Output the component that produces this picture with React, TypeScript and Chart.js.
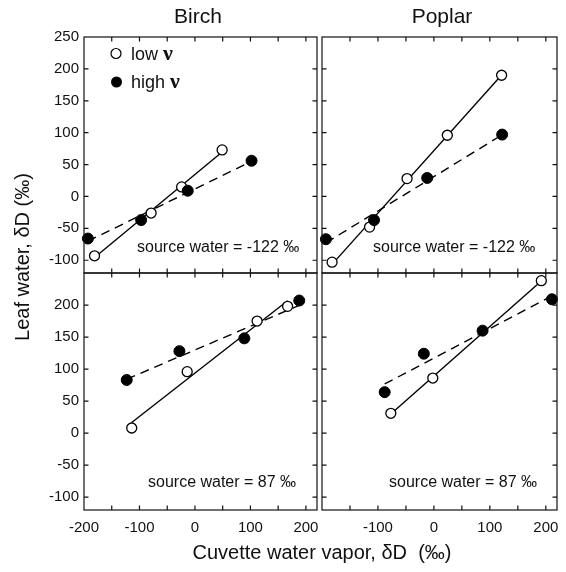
import React, { useEffect, useRef } from "react";
import { Chart, registerables } from "chart.js";

Chart.register(...registerables);

const W = 566;
const H = 572;
const SANS = "'Liberation Sans', Arial, Helvetica, sans-serif";
const SERIF = "'Liberation Serif', 'DejaVu Serif', serif";

// ---- axis settings / tick values ----
const X_MIN = -200;
const X_MAX = 220;
const Y_MIN = -120;
const Y_MAX = 250;
const X_TICKS = [-200, -150, -100, -50, 0, 50, 100, 150, 200];
const X_LABELS_LEFT = [-200, -100, 0, 100, 200];
const X_LABELS_RIGHT = [-100, 0, 100, 200];
const Y_TICKS = [-100, -50, 0, 50, 100, 150, 200, 250];
const Y_LABELS_TOP = [-100, -50, 0, 50, 100, 150, 200, 250];
const Y_LABELS_BOTTOM = [-100, -50, 0, 50, 100, 150, 200];

// ---- data (δD ‰) ----
const birchTopLowX = [-181, -79, -24, 49];
const birchTopLowY = [-93, -26, 15, 73];
const birchTopHighX = [-193, -97, -13, 102];
const birchTopHighY = [-66, -37, 9, 56];

const poplarTopLowX = [-182, -115, -48, 24, 121];
const poplarTopLowY = [-103, -48, 28, 96, 190];
const poplarTopHighX = [-193, -107, -12, 122];
const poplarTopHighY = [-67, -37, 29, 97];

const birchBotLowX = [-114, -14, 112, 167];
const birchBotLowY = [8, 96, 175, 198];
const birchBotHighX = [-123, -28, 89, 188];
const birchBotHighY = [83, 128, 148, 207];

const poplarBotLowX = [-77, -2, 192];
const poplarBotLowY = [31, 86, 238];
const poplarBotHighX = [-88, -18, 87, 211];
const poplarBotHighY = [64, 124, 160, 209];

const TITLES = ["Birch", "Poplar"];
const SOURCE_TOP = "source water = -122 ‰";
const SOURCE_BOTTOM = "source water = 87 ‰";
const LEGEND_LOW = "low";
const LEGEND_HIGH = "high";
const NU = "ν";
const Y_TITLE = "Leaf water, δD (‰)";
const X_TITLE = "Cuvette water vapor, δD  (‰)";

type Panel = {
  left: number;
  top: number;
  right: number;
  bottom: number;
  lowX: number[];
  lowY: number[];
  highX: number[];
  highY: number[];
  yLabels: number[] | null;
  xLabels: number[] | null;
  source: string;
  sourceX: number;
  sourceY: number;
};

const PANELS: Panel[] = [
  {
    left: 84, top: 37, right: 317, bottom: 273,
    lowX: birchTopLowX, lowY: birchTopLowY, highX: birchTopHighX, highY: birchTopHighY,
    yLabels: Y_LABELS_TOP, xLabels: null,
    source: SOURCE_TOP, sourceX: 137, sourceY: 248,
  },
  {
    left: 322, top: 37, right: 557, bottom: 273,
    lowX: poplarTopLowX, lowY: poplarTopLowY, highX: poplarTopHighX, highY: poplarTopHighY,
    yLabels: null, xLabels: null,
    source: SOURCE_TOP, sourceX: 373, sourceY: 248,
  },
  {
    left: 84, top: 273, right: 317, bottom: 510,
    lowX: birchBotLowX, lowY: birchBotLowY, highX: birchBotHighX, highY: birchBotHighY,
    yLabels: Y_LABELS_BOTTOM, xLabels: X_LABELS_LEFT,
    source: SOURCE_BOTTOM, sourceX: 148, sourceY: 483,
  },
  {
    left: 322, top: 273, right: 557, bottom: 510,
    lowX: poplarBotLowX, lowY: poplarBotLowY, highX: poplarBotHighX, highY: poplarBotHighY,
    yLabels: null, xLabels: X_LABELS_RIGHT,
    source: SOURCE_BOTTOM, sourceX: 389, sourceY: 483,
  },
];

function toPoints(xs: number[], ys: number[]) {
  return xs.map((x, i) => ({ x, y: ys[i] }));
}

function fitLine(xs: number[], ys: number[]) {
  const n = xs.length;
  const mx = xs.reduce((a, b) => a + b, 0) / n;
  const my = ys.reduce((a, b) => a + b, 0) / n;
  let sxy = 0;
  let sxx = 0;
  for (let i = 0; i < n; i++) {
    sxy += (xs[i] - mx) * (ys[i] - my);
    sxx += (xs[i] - mx) * (xs[i] - mx);
  }
  const b = sxy / sxx;
  const a = my - b * mx;
  const x0 = Math.min(...xs);
  const x1 = Math.max(...xs);
  return [
    { x: x0, y: a + b * x0 },
    { x: x1, y: a + b * x1 },
  ];
}

function makeConfig(p: Panel, drawGlobal: boolean): any {
  const YW = p.yLabels ? 50 : 0;
  const XH = p.xLabels ? 30 : 0;
  const tickFont = { family: SANS, size: 15 };

  const framePlugin = {
    id: "frame" + p.left + "_" + p.top,
    afterDraw(chart: any) {
      const ctx = chart.ctx as CanvasRenderingContext2D;
      const ca = chart.chartArea;
      const xs = chart.scales.x;
      const ys = chart.scales.y;
      ctx.save();
      ctx.strokeStyle = "#111";
      ctx.lineWidth = 1.2;
      ctx.strokeRect(ca.left, ca.top, ca.right - ca.left, ca.bottom - ca.top);
      const TL = 4.5;
      ctx.beginPath();
      for (const v of X_TICKS) {
        const px = xs.getPixelForValue(v);
        if (px <= ca.left + 1 || px >= ca.right - 1) continue;
        ctx.moveTo(px, ca.bottom);
        ctx.lineTo(px, ca.bottom - TL);
        ctx.moveTo(px, ca.top);
        ctx.lineTo(px, ca.top + TL);
      }
      for (const v of Y_TICKS) {
        const py = ys.getPixelForValue(v);
        if (py <= ca.top + 1 || py >= ca.bottom - 1) continue;
        ctx.moveTo(ca.left, py);
        ctx.lineTo(ca.left + TL, py);
        ctx.moveTo(ca.right, py);
        ctx.lineTo(ca.right - TL, py);
      }
      ctx.stroke();

      // source water annotation
      ctx.fillStyle = "#111";
      ctx.font = `16px ${SANS}`;
      ctx.textAlign = "left";
      ctx.textBaseline = "middle";
      ctx.fillText(p.source, p.sourceX, p.sourceY);

      if (drawGlobal) {
        // legend
        ctx.lineWidth = 1.2;
        ctx.beginPath();
        ctx.arc(116, 53.5, 5, 0, Math.PI * 2);
        ctx.fillStyle = "#fff";
        ctx.fill();
        ctx.strokeStyle = "#000";
        ctx.stroke();
        ctx.beginPath();
        ctx.arc(116.5, 82, 5.5, 0, Math.PI * 2);
        ctx.fillStyle = "#000";
        ctx.fill();

        ctx.fillStyle = "#111";
        ctx.font = `18px ${SANS}`;
        ctx.textAlign = "left";
        ctx.textBaseline = "alphabetic";
        ctx.fillText(LEGEND_LOW, 131, 60);
        const wLow = ctx.measureText(LEGEND_LOW + " ").width;
        ctx.fillText(LEGEND_HIGH, 131, 88);
        const wHigh = ctx.measureText(LEGEND_HIGH + " ").width;
        ctx.font = `bold 22px ${SERIF}`;
        ctx.fillText(NU, 131 + wLow, 60);
        ctx.fillText(NU, 131 + wHigh, 88);

        // titles
        ctx.font = `21px ${SANS}`;
        ctx.textAlign = "center";
        ctx.textBaseline = "middle";
        ctx.fillText(TITLES[0], 198, 17);
        ctx.fillText(TITLES[1], 442, 17);

        // axis titles
        ctx.font = `20px ${SANS}`;
        ctx.fillText(X_TITLE, 322, 553);
        ctx.save();
        ctx.translate(23, 257);
        ctx.rotate(-Math.PI / 2);
        ctx.fillText(Y_TITLE, 0, 0);
        ctx.restore();
      }
      ctx.restore();
    },
  };

  return {
    type: "scatter",
    data: {
      datasets: [
        {
          label: "low ν",
          data: toPoints(p.lowX, p.lowY),
          showLine: false,
          pointRadius: 5,
          pointBackgroundColor: "#fff",
          pointBorderColor: "#000",
          pointBorderWidth: 1.3,
          order: 1,
          clip: false,
        },
        {
          label: "high ν",
          data: toPoints(p.highX, p.highY),
          showLine: false,
          pointRadius: 5.5,
          pointBackgroundColor: "#000",
          pointBorderColor: "#000",
          pointBorderWidth: 1,
          order: 0,
          clip: false,
        },
        {
          label: "low fit",
          data: fitLine(p.lowX, p.lowY),
          showLine: true,
          borderColor: "#000",
          borderWidth: 1.4,
          pointRadius: 0,
          order: 2,
          clip: false,
        },
        {
          label: "high fit",
          data: fitLine(p.highX, p.highY),
          showLine: true,
          borderColor: "#000",
          borderWidth: 1.4,
          borderDash: [9, 6],
          pointRadius: 0,
          order: 2,
          clip: false,
        },
      ],
    },
    options: {
      animation: false,
      responsive: false,
      maintainAspectRatio: false,
      events: [],
      layout: {
        padding: {
          left: p.left - YW,
          top: p.top,
          right: W - p.right,
          bottom: H - p.bottom - XH,
        },
      },
      plugins: {
        legend: { display: false },
        tooltip: { enabled: false },
        title: { display: false },
      },
      scales: {
        x: {
          type: "linear",
          position: "bottom",
          min: X_MIN,
          max: X_MAX,
          grid: { display: false, drawTicks: false },
          border: { display: false },
          afterBuildTicks: (s: any) => {
            s.ticks = X_TICKS.map((v) => ({ value: v }));
          },
          afterFit: (s: any) => {
            s.height = XH;
            s.paddingLeft = 0;
            s.paddingRight = 0;
            s.paddingTop = 0;
            s.paddingBottom = 0;
          },
          ticks: {
            display: !!p.xLabels,
            autoSkip: false,
            maxRotation: 0,
            minRotation: 0,
            padding: 9,
            color: "#111",
            font: tickFont,
            callback: (v: any) => (p.xLabels && p.xLabels.includes(Number(v)) ? String(v) : ""),
          },
        },
        y: {
          type: "linear",
          position: "left",
          min: Y_MIN,
          max: Y_MAX,
          grid: { display: false, drawTicks: false },
          border: { display: false },
          afterBuildTicks: (s: any) => {
            s.ticks = Y_TICKS.map((v) => ({ value: v }));
          },
          afterFit: (s: any) => {
            s.width = YW;
            s.paddingLeft = 0;
            s.paddingRight = 0;
            s.paddingTop = 0;
            s.paddingBottom = 0;
          },
          ticks: {
            display: !!p.yLabels,
            autoSkip: false,
            padding: 5,
            color: "#111",
            font: tickFont,
            callback: (v: any) => (p.yLabels && p.yLabels.includes(Number(v)) ? String(v) : ""),
          },
        },
      },
    },
    plugins: [framePlugin],
  };
}

export default function App() {
  const canvases = useRef<(HTMLCanvasElement | null)[]>([]);

  useEffect(() => {
    const charts = PANELS.map((p, i) => new Chart(canvases.current[i] as HTMLCanvasElement, makeConfig(p, i === 0)));
    return () => {
      charts.forEach((c) => c.destroy());
    };
  }, []);

  return (
    <div style={{ position: "fixed", left: 0, top: 0, width: W, height: H, background: "#fff" }}>
      {PANELS.map((_, i) => (
        <canvas
          key={i}
          ref={(el) => {
            canvases.current[i] = el;
          }}
          width={W}
          height={H}
          style={{ position: "absolute", left: 0, top: 0, width: W, height: H }}
        />
      ))}
    </div>
  );
}
